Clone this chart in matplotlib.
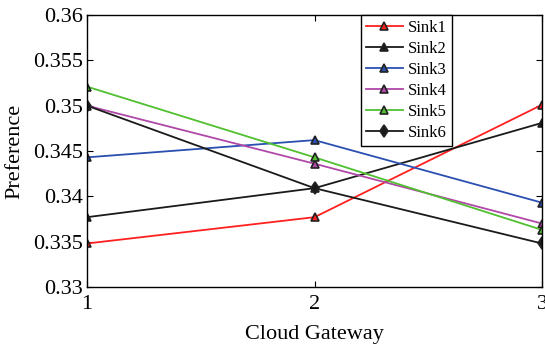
import matplotlib
matplotlib.use("Agg")
import matplotlib.pyplot as plt

plt.rcParams["font.family"] = ["Liberation Serif", "DejaVu Serif"]

gateways = [1, 2, 3]
sink1 = [0.3348, 0.3377, 0.3501]
sink2 = [0.3377, 0.3409, 0.3481]
sink3 = [0.3443, 0.3462, 0.3393]
sink4 = [0.3500, 0.3436, 0.3370]
sink5 = [0.3521, 0.3443, 0.3363]
sink6 = [0.3500, 0.3409, 0.3348]

names = ["Sink1", "Sink2", "Sink3", "Sink4", "Sink5", "Sink6"]
colors = ["#ff2020", "#1a1a1a", "#2a4fb0", "#b048a8", "#50c030", "#1a1a1a"]
markers = ["^", "^", "^", "^", "^", "d"]
series = [sink1, sink2, sink3, sink4, sink5, sink6]

fig = plt.figure(figsize=(5.45, 3.47), dpi=100)
ax = fig.add_axes([87 / 545, 60 / 347, 455 / 545, 272 / 347])

for vals, name, c, m in zip(series, names, colors, markers):
    ax.plot(gateways, vals, color=c, marker=m, markersize=6, lw=1.3,
            markerfacecolor=c, markeredgecolor="#222222", markeredgewidth=1.2,
            label=name)

ax.set_xlim(1, 3)
ax.set_ylim(0.33, 0.36)
ax.set_xticks([1, 2, 3])
ax.set_yticks([0.33, 0.335, 0.34, 0.345, 0.35, 0.355, 0.36])
ax.set_yticklabels(["0.33", "0.335", "0.34", "0.345", "0.35", "0.355", "0.36"])
ax.tick_params(direction="in", top=True, right=True, labelsize=16, length=4)
ax.tick_params(axis="x", pad=6)
ax.tick_params(axis="y", pad=3)
for s in ax.spines.values():
    s.set_linewidth(1.0)

ax.set_xlabel("Cloud Gateway", fontsize=16, labelpad=8)
ax.set_ylabel("Preference", fontsize=16, labelpad=6)

leg = ax.legend(loc="upper left", bbox_to_anchor=(274 / 455, 1.0), fontsize=12,
                fancybox=False, framealpha=1, edgecolor="black",
                handlelength=2.2, borderpad=0.3, labelspacing=0.3,
                handletextpad=0.3, borderaxespad=0)
leg.get_frame().set_linewidth(1.0)

fig.savefig("out.png", dpi=100)
